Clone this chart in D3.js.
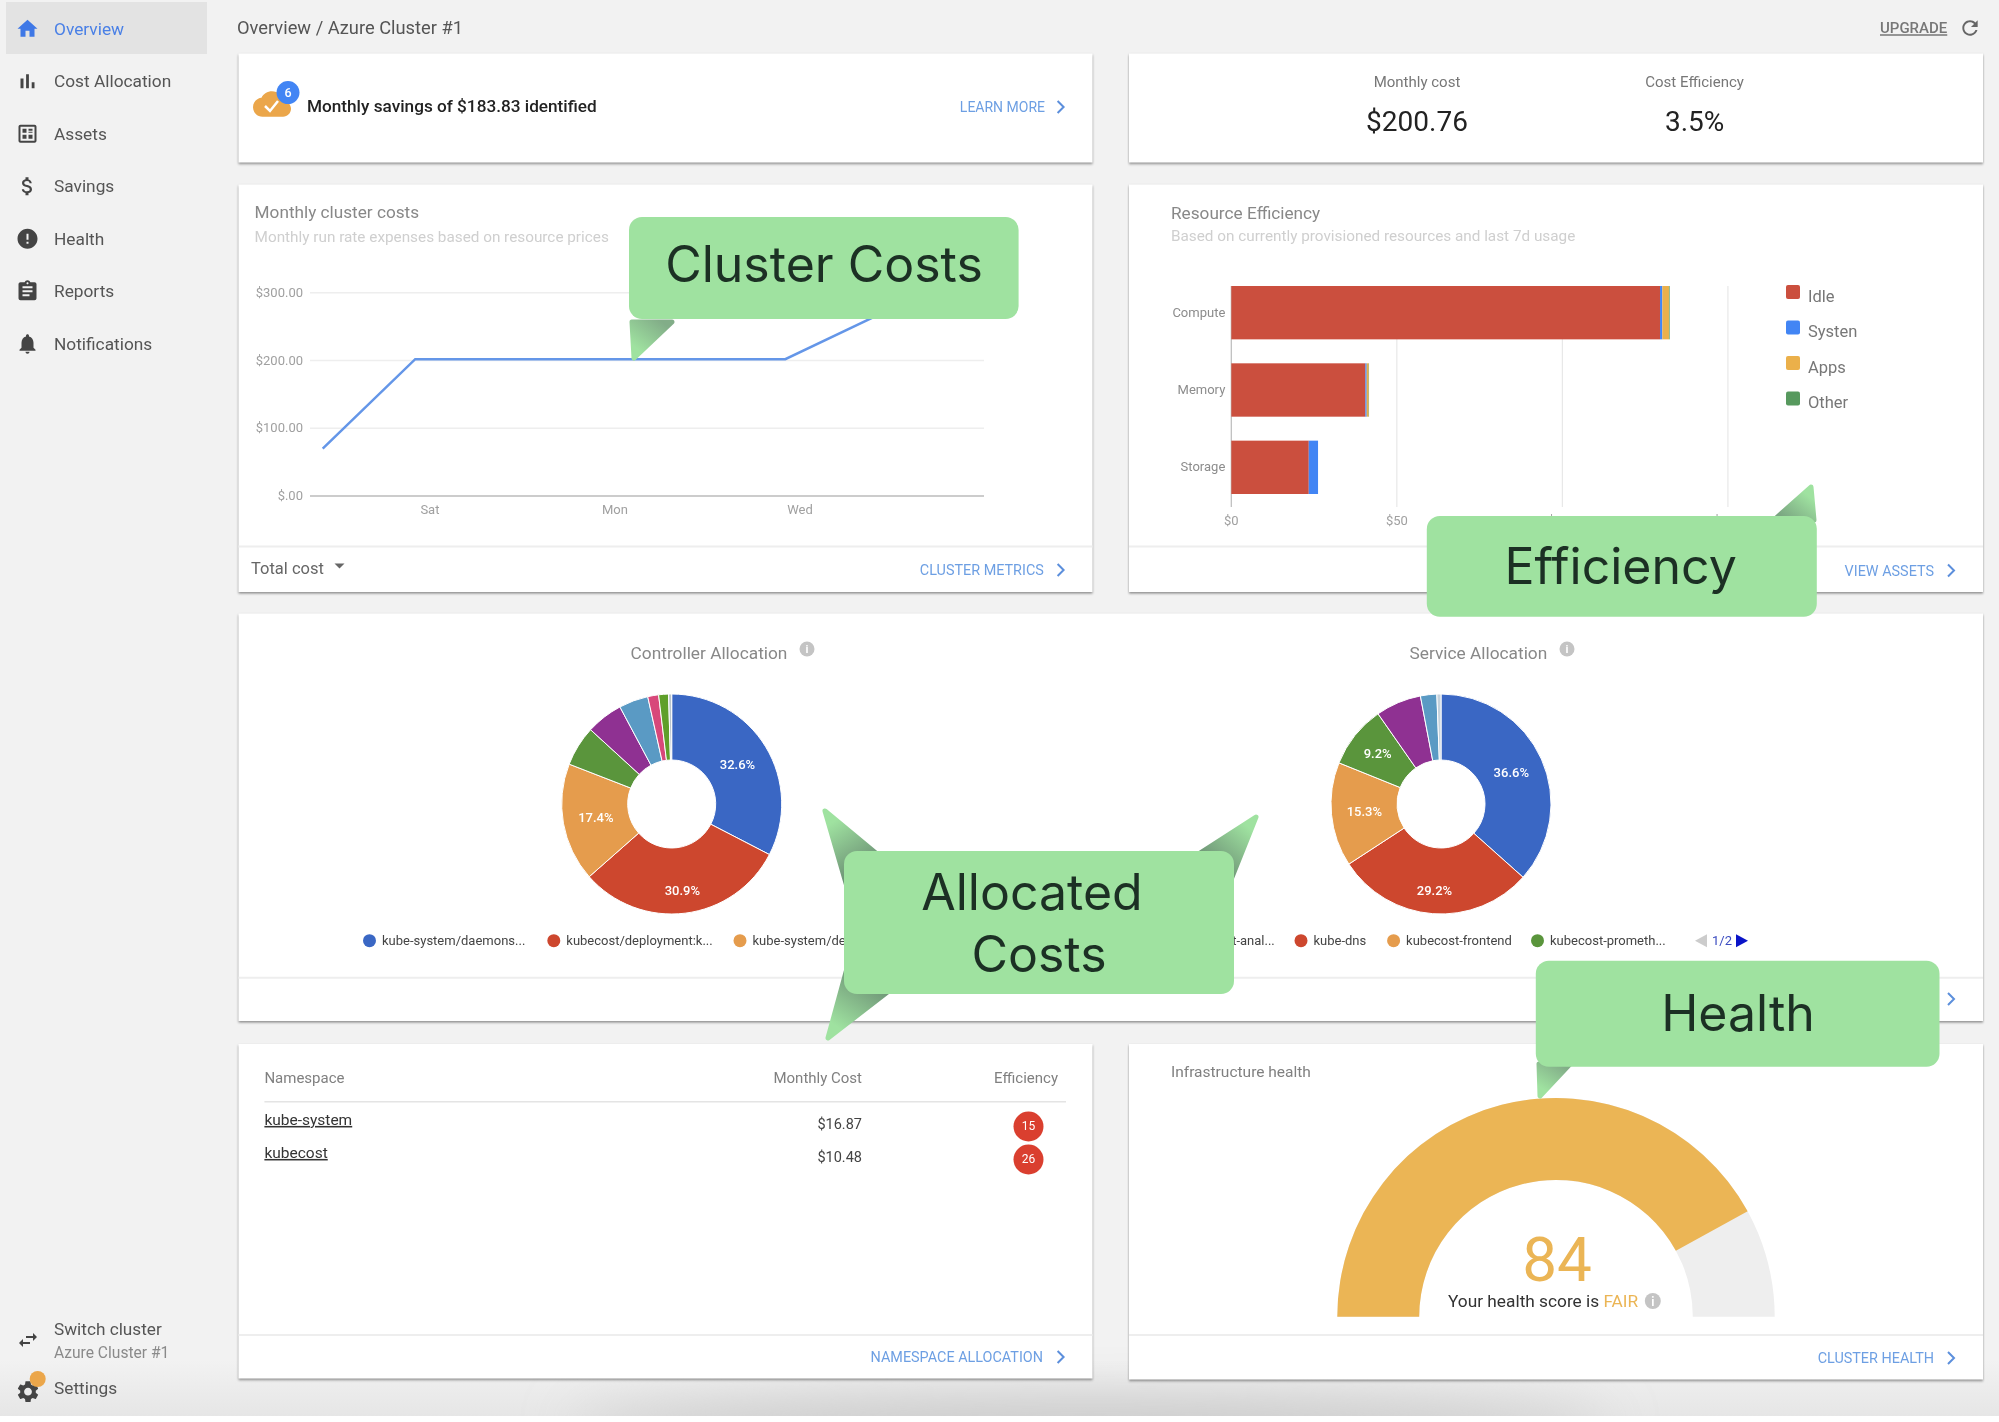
<!DOCTYPE html>
<html>
<head>
<meta charset="utf-8">
<title>Overview / Azure Cluster #1</title>
<script src="https://cdn.jsdelivr.net/npm/d3@7"></script>
<style>
  body { margin: 0; background: #fff; }
  svg { display: block; }
  text { font-family: Roboto, sans-serif; }
</style>
</head>
<body>
<div id="dashboard"></div>
<script>
// Chart values
const costDays = ["Fri", "Sat", "Sun", "Mon", "Tue", "Wed", "Thu"];
const costValues = [70, 202, 202, 202, 202, 202, 267];
const costTickDays = ["Sat", "Mon", "Wed"];
const costTicks = [0, 100, 200, 300];

const resourceNames = ["Compute", "Memory", "Storage"];
const idleCosts = [129.5, 40.5, 23.4];
const systemCosts = [0.7, 0.4, 2.8];
const appsCosts = [2.0, 0.6, 0];
const otherCosts = [0.2, 0.1, 0];
const resourceSeries = ["Idle", "Systen", "Apps", "Other"];
const resourceColors = ["#cb4f3e", "#4285f4", "#ebb04a", "#57995e"];
const resourceTicks = [0, 50, 100, 150];

const controllerValues = [32.6, 30.9, 17.4, 5.9, 5.4, 4.3, 1.6, 1.45, 0.45];
const serviceValues = [36.6, 29.2, 15.3, 9.2, 6.7, 2.4, 0.6];
const controllerColors = ["#3a67c4", "#cd472e", "#e59c4d", "#5a953c", "#8f3192", "#5a9ac4", "#d8487a", "#5f9f2a", "#b9c4cc"];
const serviceColors = ["#3a67c4", "#cd472e", "#e59c4d", "#5a953c", "#8f3192", "#5a9ac4", "#c5d2dc"];
const controllerLegend = ["kube-system/daemons...", "kubecost/deployment:k...", "kube-system/de"];
const serviceLegend = ["kubecost-cost-anal...", "kube-dns", "kubecost-frontend", "kubecost-prometh..."];

const namespaces = ["kube-system", "kubecost"];
const namespaceCosts = ["$16.87", "$10.48"];
const namespaceEfficiency = [15, 26];

const healthScore = 84;

const navLabels = ["Overview", "Cost Allocation", "Assets", "Savings", "Health", "Reports", "Notifications"];

// Material icon paths
const icons = {
  home: "M10 20v-6h4v6h5v-8h3L12 3 2 12h3v8z",
  bars: "M5 9.2h3V19H5zM10.6 5h2.8v14h-2.8zm5.6 8H19v6h-2.8z",
  assets: "M5 3h14c1.1 0 2 .9 2 2v14c0 1.1-.9 2-2 2H5c-1.1 0-2-.9-2-2V5c0-1.1.9-2 2-2zm0 2v14h14V5zm2 2h4v4H7zm6 0h4v2h-4zm0 3h4v1h-4zm-6 3h4v4H7zm6 0h4v4h-4z",
  money: "M11.8 10.9c-2.27-.59-3-1.2-3-2.15 0-1.09 1.01-1.85 2.7-1.85 1.78 0 2.44.85 2.5 2.1h2.21c-.07-1.72-1.12-3.3-3.21-3.81V3h-3v2.16c-1.94.42-3.5 1.68-3.5 3.61 0 2.31 1.91 3.46 4.7 4.13 2.5.6 3 1.48 3 2.41 0 .69-.49 1.79-2.7 1.79-2.06 0-2.87-.92-2.98-2.1h-2.2c.12 2.19 1.76 3.42 3.68 3.83V21h3v-2.15c1.95-.37 3.5-1.5 3.5-3.55 0-2.84-2.43-3.81-4.7-4.4z",
  error: "M12 2C6.48 2 2 6.48 2 12s4.48 10 10 10 10-4.48 10-10S17.52 2 12 2zm1 15h-2v-2h2v2zm0-4h-2V7h2v6z",
  report: "M19 3h-4.18C14.4 1.84 13.3 1 12 1c-1.3 0-2.4.84-2.82 2H5c-1.1 0-2 .9-2 2v14c0 1.1.9 2 2 2h14c1.1 0 2-.9 2-2V5c0-1.1-.9-2-2-2zm-7 0c.55 0 1 .45 1 1s-.45 1-1 1-1-.45-1-1 .45-1 1-1zm2 14H7v-2h7v2zm3-4H7v-2h10v2zm0-4H7V7h10v2z",
  bell: "M12 22c1.1 0 2-.9 2-2h-4c0 1.1.89 2 2 2zm6-6v-5c0-3.07-1.64-5.64-4.5-6.32V4c0-.83-.67-1.5-1.5-1.5s-1.5.67-1.5 1.5v.68C7.63 5.36 6 7.92 6 11v5l-2 2v1h16v-1l-2-2z",
  gear: "M19.14 12.94c.04-.3.06-.61.06-.94 0-.32-.02-.64-.07-.94l2.03-1.58c.18-.14.23-.41.12-.61l-1.92-3.32c-.12-.22-.37-.29-.59-.22l-2.39.96c-.5-.38-1.03-.7-1.62-.94l-.36-2.54c-.04-.24-.24-.41-.48-.41h-3.84c-.24 0-.43.17-.47.41l-.36 2.54c-.59.24-1.13.57-1.62.94l-2.39-.96c-.22-.08-.47 0-.59.22L2.74 8.87c-.12.21-.08.47.12.61l2.03 1.58c-.05.3-.09.63-.09.94s.02.64.07.94l-2.03 1.58c-.18.14-.23.41-.12.61l1.92 3.32c.12.22.37.29.59.22l2.39-.96c.5.38 1.03.7 1.62.94l.36 2.54c.05.24.24.41.48.41h3.84c.24 0 .44-.17.47-.41l.36-2.54c.59-.24 1.13-.56 1.62-.94l2.39.96c.22.08.47 0 .59-.22l1.92-3.32c.12-.22.07-.47-.12-.61l-2.01-1.58zM12 15.6c-1.98 0-3.6-1.62-3.6-3.6s1.62-3.6 3.6-3.6 3.6 1.62 3.6 3.6-1.62 3.6-3.6 3.6z",
  swap: "M6.99 11L3 15l3.99 4v-3H14v-2H6.99v-3zM21 9l-3.99-4v3H10v2h7.01v3L21 9z",
  refresh: "M17.65 6.35C16.2 4.9 14.21 4 12 4c-4.42 0-7.99 3.58-7.99 8s3.57 8 7.99 8c3.73 0 6.84-2.55 7.73-6h-2.08c-.82 2.33-3.04 4-5.65 4-3.31 0-6-2.69-6-6s2.69-6 6-6c1.66 0 3.14.69 4.22 1.78L13 11h7V4l-2.35 2.35z",
  cloud: "M19.35 10.04C18.67 6.59 15.64 4 12 4 9.11 4 6.6 5.64 5.35 8.04 2.34 8.36 0 10.91 0 14c0 3.31 2.69 6 6 6h13c2.76 0 5-2.24 5-5 0-2.64-2.05-4.78-4.65-4.96z"
};
const navIcons = ["home", "bars", "assets", "money", "error", "report", "bell"];

const width = 1999, height = 1422;
const linkBlue = "#6d9fe3";

const svg = d3.select("#dashboard").append("svg")
    .attr("width", width)
    .attr("height", height);

const defs = svg.append("defs");

// screenshot is slightly soft, the callouts on top are not
defs.append("filter").attr("id", "soft")
    .attr("x", 0).attr("y", 0).attr("width", 1).attr("height", 1)
    .attr("color-interpolation-filters", "sRGB")
    .append("feGaussianBlur").attr("stdDeviation", 0.55);

const shadow = defs.append("filter").attr("id", "cardShadow")
    .attr("x", "-2%").attr("y", "-2%").attr("width", "104%").attr("height", "106%")
    .attr("color-interpolation-filters", "sRGB");
shadow.append("feDropShadow")
    .attr("dx", 0).attr("dy", 1.5).attr("stdDeviation", 1.3)
    .attr("flood-color", "#000").attr("flood-opacity", 0.42);

defs.append("filter").attr("id", "wideBlur")
    .attr("x", "-20%").attr("y", "-100%").attr("width", "140%").attr("height", "300%")
    .append("feGaussianBlur").attr("stdDeviation", 26);

const bottomFade = defs.append("linearGradient").attr("id", "bottomFade")
    .attr("x1", 0).attr("y1", 0).attr("x2", 0).attr("y2", 1);
bottomFade.append("stop").attr("offset", 0).attr("stop-color", "#f2f2f2");
bottomFade.append("stop").attr("offset", 1).attr("stop-color", "#e6e6e6");

const page = svg.append("g").attr("filter", "url(#soft)");

// page background, the bottom few pixels of the screenshot are white
page.append("rect").attr("width", width).attr("height", 1416).attr("fill", "#f2f2f2");
page.append("rect").attr("y", 1360).attr("width", width).attr("height", 56).attr("fill", "url(#bottomFade)");
const bottomClip = defs.append("clipPath").attr("id", "bottomClip");
bottomClip.append("rect").attr("width", width).attr("height", 1416);
page.append("g").attr("clip-path", "url(#bottomClip)")
    .append("ellipse")
    .attr("cx", 1090).attr("cy", 1425).attr("rx", 520).attr("ry", 26)
    .attr("fill", "#c8c8c8").attr("filter", "url(#wideBlur)");

function label(parent, x, y, str, size, color, opts) {
  opts = opts || {};
  return parent.append("text")
      .attr("x", x)
      .attr("y", y)
      .attr("dy", "0.35em")
      .attr("font-size", size)
      .attr("fill", color)
      .attr("font-weight", opts.weight || 400)
      .attr("text-anchor", opts.anchor || "start")
      .attr("text-decoration", opts.underline ? "underline" : null)
      .text(str);
}

function icon(parent, name, cx, cy, size, color) {
  parent.append("path")
      .attr("d", icons[name])
      .attr("fill", color)
      .attr("transform", "translate(" + (cx - size / 2) + "," + (cy - size / 2) + ") scale(" + size / 24 + ")");
}

function chevron(parent, cx, cy) {
  parent.append("path")
      .attr("d", "M" + (cx - 3) + "," + (cy - 6) + "L" + (cx + 3) + "," + cy + "L" + (cx - 3) + "," + (cy + 6))
      .attr("fill", "none")
      .attr("stroke", "#5c8fdc")
      .attr("stroke-width", 2);
}

function infoDot(parent, cx, cy, r) {
  parent.append("circle").attr("cx", cx).attr("cy", cy).attr("r", r).attr("fill", "#c4c4c4");
  label(parent, cx, cy + 0.5, "i", r * 1.5, "#fff", {anchor: "middle", weight: 700});
}

function card(x, y, w, h, footerY) {
  page.append("rect")
      .attr("x", x).attr("y", y).attr("width", w).attr("height", h)
      .attr("fill", "#fff")
      .attr("filter", "url(#cardShadow)");
  if (footerY) {
    page.append("line")
        .attr("x1", x).attr("x2", x + w)
        .attr("y1", footerY).attr("y2", footerY)
        .attr("stroke", "#eeeeee").attr("stroke-width", 2);
  }
}

// ---- sidebar
page.append("rect").attr("x", 6).attr("y", 2).attr("width", 201).attr("height", 52).attr("fill", "#e3e3e3");
navLabels.forEach(function(name, i) {
  const y = 28.7 + i * 52.5;
  icon(page, navIcons[i], 27.5, y, 24, i === 0 ? "#3f78e6" : "#444");
  label(page, 54, y, name, 17.3, i === 0 ? "#4a80e6" : "#555");
});
icon(page, "swap", 28, 1340, 24, "#444");
label(page, 54, 1329, "Switch cluster", 17.2, "#555");
label(page, 54, 1352.7, "Azure Cluster #1", 15.6, "#8a8a8a");
icon(page, "gear", 28, 1391.7, 26, "#444");
page.append("circle").attr("cx", 37.7).attr("cy", 1379).attr("r", 8).attr("fill", "#eba64a");
label(page, 54, 1388, "Settings", 17.3, "#555");

// ---- header
label(page, 237, 27.7, "Overview / Azure Cluster #1", 18.3, "#555");
label(page, 1880, 28, "UPGRADE", 15, "#777", {weight: 500, underline: true});
icon(page, "refresh", 1970, 28, 23, "#666");

// ---- savings banner
card(238.5, 53.5, 854, 109);
icon(page, "cloud", 272, 104, 38, "#eba64a");
page.append("path").attr("d", "M265,106L270,111L278,101")
    .attr("fill", "none").attr("stroke", "#fff").attr("stroke-width", 2.5);
page.append("circle").attr("cx", 288).attr("cy", 92.6).attr("r", 11.5).attr("fill", "#4285f4");
label(page, 288, 92.6, "6", 12.5, "#fff", {anchor: "middle", weight: 500});
label(page, 307, 106, "Monthly savings of $183.83 identified", 17.2, "#222", {weight: 500});
label(page, 1045, 107, "LEARN MORE", 14, linkBlue, {anchor: "end"});
chevron(page, 1060.6, 107);

// ---- monthly cost summary
card(1129, 53.5, 854, 109);
label(page, 1417, 81.4, "Monthly cost", 15, "#777", {anchor: "middle"});
label(page, 1694.6, 81.4, "Cost Efficiency", 15, "#777", {anchor: "middle"});
label(page, 1417, 120.7, "$200.76", 28, "#222", {anchor: "middle"});
label(page, 1694.6, 120.7, "3.5%", 28, "#222", {anchor: "middle"});

// ---- monthly cluster costs line chart
card(238.5, 184.5, 854, 407.5, 546.5);
label(page, 254.6, 211.8, "Monthly cluster costs", 17.2, "#888");
label(page, 254.6, 236.5, "Monthly run rate expenses based on resource prices", 15.3, "#cfcfcf");
label(page, 251, 568, "Total cost", 16.5, "#666");
page.append("path").attr("d", "M334.5,563.5h10l-5,5z").attr("fill", "#666");
label(page, 1043.8, 570, "CLUSTER METRICS", 14.4, linkBlue, {anchor: "end"});
chevron(page, 1060.6, 570);

const costX = d3.scalePoint().domain(costDays).range([322.7, 877.8]);
const costY = d3.scaleLinear().domain([0, 300]).range([496, 292.8]);

const costGrid = page.append("g")
    .attr("transform", "translate(310,0)")
    .call(d3.axisLeft(costY)
        .offset(0)
        .tickValues(costTicks)
        .tickSize(-674)
        .tickPadding(7)
        .tickFormat(function(d) { return "$" + (d === 0 ? ".00" : d3.format(".2f")(d)); }));
costGrid.select(".domain").remove();
costGrid.selectAll(".tick line")
    .attr("stroke", function(d) { return d === 0 ? "#cccccc" : "#eeeeee"; })
    .attr("stroke-width", function(d) { return d === 0 ? 2 : 1.5; });
costGrid.selectAll("text").attr("font-size", 13).attr("fill", "#a0a0a0").attr("font-family", "Roboto");

const costAxis = page.append("g")
    .attr("transform", "translate(0,496)")
    .call(d3.axisBottom(costX).offset(0).tickValues(costTickDays).tickSize(0).tickPadding(9));
costAxis.select(".domain").remove();
costAxis.selectAll("text").attr("dx", 14.7).attr("font-size", 13).attr("fill", "#a0a0a0").attr("font-family", "Roboto");

const costLine = d3.line()
    .x(function(d, i) { return costX(costDays[i]); })
    .y(function(d) { return costY(d); });
page.append("path")
    .datum(costValues)
    .attr("d", costLine)
    .attr("fill", "none")
    .attr("stroke", "#6496e8")
    .attr("stroke-width", 2.5);

// ---- resource efficiency stacked bars
card(1129, 184.5, 854, 407.5, 546.5);
label(page, 1171, 212.5, "Resource Efficiency", 17.2, "#888");
label(page, 1171, 236, "Based on currently provisioned resources and last 7d usage", 15.3, "#cfcfcf");
label(page, 1934, 570.5, "VIEW ASSETS", 14.4, linkBlue, {anchor: "end"});
chevron(page, 1951, 570.5);

const effX = d3.scaleLinear().domain([0, 150]).range([1231.3, 1727.9]);
const effY = d3.scaleBand().domain(resourceNames).range([286, 494]).paddingInner(0.31);

const effAxis = page.append("g")
    .attr("transform", "translate(0,507)")
    .call(d3.axisBottom(effX)
        .offset(0)
        .tickValues(resourceTicks)
        .tickSize(-221)
        .tickPadding(9)
        .tickFormat(function(d) { return "$" + d; }));
effAxis.select(".domain").remove();
effAxis.selectAll(".tick line")
    .attr("stroke", function(d) { return d === 0 ? "#bbbbbb" : "#e8e8e8"; })
    .attr("stroke-width", 1.2);
effAxis.selectAll("text").attr("font-size", 13).attr("fill", "#a0a0a0").attr("font-family", "Roboto");

const effRows = resourceNames.map(function(name, i) {
  return {name: name, Idle: idleCosts[i], Systen: systemCosts[i], Apps: appsCosts[i], Other: otherCosts[i]};
});
const effStack = d3.stack().keys(resourceSeries)(effRows);

page.selectAll(".eff-series")
    .data(effStack)
    .enter().append("g")
    .attr("class", "eff-series")
    .attr("fill", function(d, i) { return resourceColors[i]; })
    .selectAll("rect")
    .data(function(d) { return d; })
    .enter().append("rect")
    .attr("x", function(d) { return effX(d[0]); })
    .attr("y", function(d) { return effY(d.data.name); })
    .attr("width", function(d) { return effX(d[1]) - effX(d[0]); })
    .attr("height", effY.bandwidth());

const effNames = page.append("g")
    .attr("transform", "translate(1231.3,0)")
    .call(d3.axisLeft(effY).offset(0).tickSize(0).tickPadding(6));
effNames.select(".domain").remove();
effNames.selectAll("text").attr("font-size", 13).attr("fill", "#8c8c8c").attr("font-family", "Roboto");

resourceSeries.forEach(function(name, i) {
  page.append("rect")
      .attr("x", 1786).attr("y", 285 + i * 35.5)
      .attr("width", 14).attr("height", 14).attr("rx", 2)
      .attr("fill", resourceColors[i]);
  label(page, 1808, 296 + i * 35.5, name, 16.5, "#777");
});

// ---- allocation donuts
card(238.5, 613.5, 1744.5, 407.5, 977.7);
chevron(page, 1951, 999);

function donut(cx, cy, values, colors) {
  const arc = d3.arc().innerRadius(44).outerRadius(110);
  const pie = d3.pie().sort(null).value(function(d) { return d; });
  const g = page.append("g").attr("transform", "translate(" + cx + "," + cy + ")");
  const slices = g.selectAll(".slice")
      .data(pie(values))
      .enter().append("g")
      .attr("class", "slice");
  slices.append("path")
      .attr("d", arc)
      .attr("fill", function(d, i) { return colors[i]; })
      .attr("stroke", "#fff")
      .attr("stroke-width", 1);
  // only the big slices carry a label, bottom and small ones sit further out
  slices.filter(function(d) { return d.value > 9; })
      .append("text")
      .attr("transform", function(d) {
        const mid = (d.startAngle + d.endAngle) / 2;
        const r = Math.cos(mid) < -0.9 ? 87 : (d.value < 10 ? 81 : 77);
        return "translate(" + r * Math.sin(mid) + "," + -r * Math.cos(mid) + ")";
      })
      .attr("dy", "0.35em")
      .attr("text-anchor", "middle")
      .attr("font-size", 13)
      .attr("font-weight", 500)
      .attr("fill", "#fff")
      .text(function(d) { return d.value.toFixed(1) + "%"; });
}

donut(671.7, 804, controllerValues, controllerColors);
donut(1441, 804, serviceValues, serviceColors);

label(page, 709, 653, "Controller Allocation", 17.3, "#888", {anchor: "middle"});
infoDot(page, 807, 649, 7.5);
label(page, 1478.4, 653, "Service Allocation", 17.3, "#888", {anchor: "middle"});
infoDot(page, 1567, 649, 7.5);

function legendItem(x, str, color) {
  page.append("circle").attr("cx", x).attr("cy", 940.7).attr("r", 6.5).attr("fill", color);
  label(page, x + 12.5, 940.7, str, 13, "#444");
}
const controllerLegendX = [369.5, 553.8, 740];
controllerLegend.forEach(function(name, i) { legendItem(controllerLegendX[i], name, controllerColors[i]); });
const serviceLegendX = [1142, 1301, 1393.6, 1537.5];
serviceLegend.forEach(function(name, i) { legendItem(serviceLegendX[i], name, serviceColors[i]); });

page.append("path").attr("d", "M1695,940.7l12,-6.5v13z").attr("fill", "#cccccc");
label(page, 1722, 940.7, "1/2", 13, "#3a4bc0", {anchor: "middle"});
page.append("path").attr("d", "M1748,940.7l-12,-6.5v13z").attr("fill", "#0a14c8");

// ---- namespace table
card(238.5, 1044, 854, 334.5, 1335);
label(page, 264.4, 1078, "Namespace", 15, "#808080");
label(page, 862, 1078, "Monthly Cost", 15, "#808080", {anchor: "end"});
label(page, 1058, 1078, "Efficiency", 15, "#808080", {anchor: "end"});
page.append("line").attr("x1", 264.4).attr("x2", 1066).attr("y1", 1101.7).attr("y2", 1101.7)
    .attr("stroke", "#e4e4e4").attr("stroke-width", 1.5);
label(page, 1043, 1357, "NAMESPACE ALLOCATION", 14.4, linkBlue, {anchor: "end"});
chevron(page, 1060.6, 1357);

const rowY = d3.scaleBand().domain(namespaces).range([1106.5, 1172.5]);
namespaces.forEach(function(name, i) {
  const y = rowY(name) + rowY.bandwidth() / 2;
  label(page, 264.4, y - 3.5, name, 15.5, "#333", {underline: true});
  label(page, 862, y + 1, namespaceCosts[i], 14.5, "#444", {anchor: "end"});
  page.append("circle").attr("cx", 1028.5).attr("cy", y + 3.5).attr("r", 15).attr("fill", "#da3f2f");
  label(page, 1028.5, y + 2.5, namespaceEfficiency[i], 12, "#fff", {anchor: "middle"});
});

// ---- infrastructure health gauge
card(1129, 1044, 854, 335.5, 1335);
label(page, 1171, 1071.7, "Infrastructure health", 15.5, "#808080");
label(page, 1934, 1358, "CLUSTER HEALTH", 14.4, linkBlue, {anchor: "end"});
chevron(page, 1951, 1358);

const gaugeAngle = d3.scaleLinear().domain([0, 100]).range([-Math.PI / 2, Math.PI / 2]);
const gaugeArc = d3.arc().innerRadius(136.8).outerRadius(218.7);
const gauge = page.append("g").attr("transform", "translate(1556,1316.7)");
gauge.append("path")
    .attr("d", gaugeArc({startAngle: gaugeAngle(0), endAngle: gaugeAngle(100)}))
    .attr("fill", "#eeeeee");
gauge.append("path")
    .attr("d", gaugeArc({startAngle: gaugeAngle(0), endAngle: gaugeAngle(healthScore)}))
    .attr("fill", "#ebb555");

label(page, 1557, 1259, healthScore, 62, "#ebb555", {anchor: "middle"});
const scoreLine = label(page, 1448, 1301, "Your health score is ", 17.3, "#333");
scoreLine.append("tspan").attr("fill", "#ebb555").text("FAIR");
infoDot(page, 1652.8, 1301, 8);

// ---- green callouts, on top and not softened
const callouts = svg.append("g");
const calloutGreen = "#9fe2a0";
let tailCount = 0;

function tail(points, baseMid, baseColor) {
  const id = "tail" + (tailCount++);
  const tip = points[0];
  const grad = defs.append("linearGradient").attr("id", id)
      .attr("gradientUnits", "userSpaceOnUse")
      .attr("x1", baseMid[0]).attr("y1", baseMid[1])
      .attr("x2", tip[0]).attr("y2", tip[1]);
  grad.append("stop").attr("offset", 0).attr("stop-color", baseColor);
  grad.append("stop").attr("offset", 0.8).attr("stop-color", calloutGreen);
  callouts.append("path")
      .attr("d", d3.line()(points) + "Z")
      .attr("fill", "url(#" + id + ")")
      .attr("stroke", "url(#" + id + ")")
      .attr("stroke-width", 5)
      .attr("stroke-linejoin", "round");
}

function bubble(x, y, w, h, lines) {
  callouts.append("rect")
      .attr("x", x).attr("y", y).attr("width", w).attr("height", h)
      .attr("rx", 13)
      .attr("fill", calloutGreen);
  lines.forEach(function(l) {
    callouts.append("text")
        .attr("x", l[0]).attr("y", l[1])
        .attr("dy", "0.35em")
        .attr("text-anchor", "middle")
        .attr("font-size", 50)
        .attr("fill", "#1c3024")
        .style("font-family", "Inter, Roboto, sans-serif")
        .text(l[2]);
  });
}

tail([[634, 358], [632, 322], [672, 322]], [662, 322], "#82ad88");
bubble(629, 217, 389.6, 102, [[824, 264, "Cluster Costs"]]);

tail([[1811, 487], [1774, 520], [1814, 520]], [1785, 520], "#7aa581");
bubble(1426.8, 516, 390, 100.7, [[1620.6, 566, "Efficiency"]]);

tail([[825, 811], [878, 855], [848, 890]], [862, 868], "#6f9577");
tail([[1256, 817], [1197, 855], [1230, 882]], [1214, 866], "#6f9577");
tail([[828, 1038], [890, 990], [848, 965]], [868, 978], "#6f9577");
bubble(844, 851, 390, 143, [[1032, 892, "Allocated"], [1039, 954, "Costs"]]);

tail([[1540, 1096], [1539, 1064], [1570, 1064]], [1560, 1064], "#82ad88");
bubble(1535.8, 960.7, 403.7, 106, [[1738, 1013, "Health"]]);
</script>
</body>
</html>
